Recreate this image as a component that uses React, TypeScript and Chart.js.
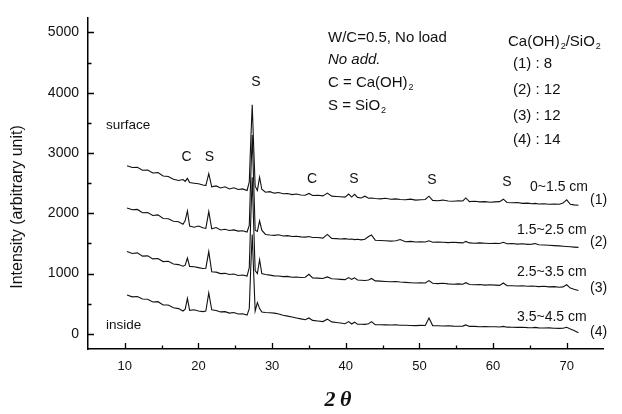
import { useEffect, useRef } from "react";
import { Chart, registerables } from "chart.js";

Chart.register(...registerables);

// 2θ positions (degrees) shared by the four patterns
const twoTheta = [
  10.3, 11, 11.7, 12.4, 13.1, 13.8, 14.5, 15.2, 15.9, 16.6,
  17.3, 17.9, 18.2, 18.5, 18.8, 19.4, 20.0, 20.6, 21.0, 21.4,
  21.8, 22.4, 23.0, 23.6, 24.2, 24.8, 25.4, 26.0, 26.6, 26.9,
  27.1, 27.3, 27.5, 27.7, 28.0, 28.3, 28.6, 29.1, 29.7, 30.3,
  30.9, 31.5, 32.1, 32.7, 33.3, 33.9, 34.5, 35.0, 35.5, 36.2,
  36.9, 37.5, 38.1, 38.7, 39.3, 39.9, 40.4, 40.8, 41.2, 41.6,
  42.1, 42.6, 43.1, 43.5, 44.0, 44.7, 45.4, 46.1, 46.8, 47.4,
  48.1, 48.8, 49.5, 50.2, 50.8, 51.3, 51.8, 52.5, 53.2, 53.9,
  54.6, 55.3, 55.9, 56.3, 56.8, 57.5, 58.2, 58.9, 59.6, 60.3,
  60.9, 61.4, 61.9, 62.6, 63.3, 64.0, 64.7, 65.3, 65.7, 66.2,
  66.9, 67.6, 68.3, 69.0, 69.5, 70.0, 70.5, 71.0, 71.6,
];

// (1) 0~1.5 cm
const trace1 = [
  2790, 2760, 2765, 2715, 2720, 2670, 2675, 2620, 2610, 2565,
  2545, 2560, 2530, 2580, 2510, 2500, 2490, 2470, 2460, 2660,
  2440, 2455, 2420, 2440, 2405, 2425, 2395, 2405, 2380, 2520,
  3200, 3800, 3100, 2450, 2380, 2600, 2400, 2350, 2360, 2335,
  2345, 2325, 2330, 2310, 2320, 2305, 2300, 2330, 2295, 2300,
  2290, 2335, 2285, 2280, 2275, 2270, 2320, 2270, 2315, 2265,
  2255, 2285, 2250, 2255, 2245, 2240, 2250, 2235, 2240, 2230,
  2225, 2235, 2220, 2225, 2230, 2285, 2215, 2210, 2220, 2205,
  2200, 2210, 2205, 2255, 2195, 2200, 2190, 2195, 2185, 2190,
  2195, 2235, 2180, 2175, 2180, 2165, 2170, 2160, 2165, 2155,
  2160, 2150, 2155, 2150, 2170, 2225, 2150, 2140, 2135,
];

// (2) 1.5~2.5 cm
const trace2 = [
  2090, 2060, 2065, 2010, 2015, 1965, 1975, 1915, 1910, 1870,
  1860, 1820, 1880, 2040, 1790, 1770, 1790, 1760, 1750, 2030,
  1745, 1765, 1725, 1735, 1715, 1725, 1705, 1712, 1690, 1800,
  2600, 3300, 2500, 1720, 1700, 1875, 1720, 1650, 1640, 1635,
  1645, 1625, 1630, 1615, 1620, 1610, 1605, 1615, 1600, 1600,
  1590, 1650, 1585, 1580, 1575, 1580, 1570, 1575, 1565, 1570,
  1560, 1570, 1615, 1640, 1555, 1550, 1545, 1540, 1545, 1565,
  1530, 1535, 1525, 1530, 1525, 1545, 1520, 1525, 1520, 1515,
  1520, 1515, 1510, 1535, 1510, 1505, 1510, 1505, 1500, 1505,
  1500, 1520, 1495, 1500, 1490, 1495, 1485, 1490, 1500, 1480,
  1475, 1470, 1465, 1460, 1455, 1450, 1445, 1440, 1435,
];

// (3) 2.5~3.5 cm
const trace3 = [
  1366, 1335, 1345, 1290, 1295, 1245, 1250, 1200, 1205, 1160,
  1150, 1124, 1140, 1258, 1120, 1115, 1100, 1085, 1090, 1366,
  1030, 1025, 1000, 1005, 985, 995, 970, 978, 960, 1100,
  1900, 2600, 1800, 1050, 1000, 1230, 1000, 985, 975, 963,
  960, 950, 955, 940, 945, 935, 940, 990, 930, 925,
  920, 945, 915, 910, 905, 900, 935, 905, 930, 895,
  890, 885, 895, 920, 880, 875, 870, 865, 870, 860,
  855, 850, 845, 850, 845, 885, 840, 835, 840, 830,
  825, 830, 825, 850, 820, 815, 820, 810, 815, 810,
  805, 845, 800, 800, 795, 800, 790, 795, 790, 785,
  790, 780, 785, 775, 780, 815, 760, 740, 721,
];

// (4) 3.5~4.5 cm
const trace4 = [
  645, 615, 620, 580, 575, 530, 535, 480, 480, 435,
  420, 380, 410, 590, 390, 400, 380, 370, 380, 680,
  400, 390, 365, 370, 345, 355, 330, 335, 312, 420,
  1100, 1650, 1000, 380, 520, 420, 365, 355, 350, 345,
  330, 310, 295, 280, 265, 250, 235, 265, 225, 215,
  205, 245, 200, 190, 180, 170, 205, 165, 195, 160,
  160, 158, 170, 205, 155, 152, 150, 148, 152, 145,
  143, 140, 138, 142, 140, 265, 138, 135, 132, 135,
  130, 128, 130, 150, 125, 125, 120, 122, 118, 120,
  115, 125, 112, 110, 108, 110, 105, 103, 108, 100,
  98, 100, 95, 92, 95, 110, 80, 55, 21,
];

const traces = [trace1, trace2, trace3, trace4];
const seriesLabels = ["(1)", "(2)", "(3)", "(4)"];
const depthLabels = ["0~1.5 cm", "1.5~2.5 cm", "2.5~3.5 cm", "3.5~4.5 cm"];
const ratioLabels = ["(1) : 8", "(2) : 12", "(3) : 12", "(4) : 14"];

const xTickValues = [10, 20, 30, 40, 50, 60, 70];
const xMinorTicks = [15, 25, 35, 45, 55, 65];
const yTickValues = [0, 1000, 2000, 3000, 4000, 5000];
const yMinorTicks = [500, 1500, 2500, 3500, 4500];

const SANS = "'Liberation Sans', Arial, sans-serif";
const SERIF = "'Liberation Serif', 'Times New Roman', serif";
const INK = "#111";

type Part = { t: string; sub?: boolean };

function drawParts(ctx: CanvasRenderingContext2D, x: number, y: number, parts: Part[], size: number, style = "") {
  let cx = x;
  for (const p of parts) {
    if (p.sub) {
      ctx.font = `${style}${Math.round(size * 0.62)}px ${SANS}`;
      ctx.fillText(p.t, cx + 1, y + size * 0.32);
      cx += ctx.measureText(p.t).width + 1;
    } else {
      ctx.font = `${style}${size}px ${SANS}`;
      ctx.fillText(p.t, cx, y);
      cx += ctx.measureText(p.t).width;
    }
  }
}

const inwardTicks = {
  id: "inwardTicks",
  afterDraw(chart: any) {
    const { ctx, chartArea, scales } = chart;
    const xs = scales.x;
    const ys = scales.y;
    ctx.save();
    ctx.strokeStyle = "#000";
    ctx.lineWidth = 1.3;
    ctx.beginPath();
    for (const v of xTickValues) {
      const px = Math.round(xs.getPixelForValue(v)) + 0.5;
      ctx.moveTo(px, chartArea.bottom);
      ctx.lineTo(px, chartArea.bottom - 6);
    }
    for (const v of xMinorTicks) {
      const px = Math.round(xs.getPixelForValue(v)) + 0.5;
      ctx.moveTo(px, chartArea.bottom);
      ctx.lineTo(px, chartArea.bottom - 3.5);
    }
    for (const v of yTickValues) {
      const py = Math.round(ys.getPixelForValue(v)) + 0.5;
      ctx.moveTo(chartArea.left, py);
      ctx.lineTo(chartArea.left + 6, py);
    }
    for (const v of yMinorTicks) {
      const py = Math.round(ys.getPixelForValue(v)) + 0.5;
      ctx.moveTo(chartArea.left, py);
      ctx.lineTo(chartArea.left + 3.5, py);
    }
    ctx.stroke();
    ctx.restore();
  },
};

const annotations = {
  id: "annotations",
  afterDraw(chart: any) {
    const ctx: CanvasRenderingContext2D = chart.ctx;
    ctx.save();
    ctx.fillStyle = INK;
    ctx.textBaseline = "middle";
    ctx.textAlign = "left";

    // header block
    drawParts(ctx, 328, 38, [{ t: "W/C=0.5, No load" }], 15);
    drawParts(ctx, 328, 60, [{ t: "No add." }], 15, "italic ");
    drawParts(ctx, 328, 83, [{ t: "C = Ca(OH)" }, { t: "2", sub: true }], 15);
    drawParts(ctx, 328, 106, [{ t: "S = SiO" }, { t: "2", sub: true }], 15);
    drawParts(ctx, 508, 42, [{ t: "Ca(OH)" }, { t: "2", sub: true }, { t: "/SiO" }, { t: "2", sub: true }], 15);
    const ratioY = [64, 90, 116, 140];
    ratioLabels.forEach((t, i) => drawParts(ctx, 513, ratioY[i], [{ t }], 15));

    // side labels
    ctx.font = `13.5px ${SANS}`;
    ctx.fillText("surface", 106, 125);
    ctx.fillText("inside", 106, 325);

    // phase markers
    ctx.textAlign = "center";
    ctx.font = `14px ${SANS}`;
    const markers: [string, number, number][] = [
      ["C", 186.5, 157], ["S", 209.5, 157], ["S", 256, 82],
      ["C", 312, 179], ["S", 354, 179], ["S", 432, 180], ["S", 507, 182],
    ];
    for (const [t, x, y] of markers) ctx.fillText(t, x, y);

    // depth labels and series numbers
    ctx.textAlign = "left";
    const depthPos: [number, number][] = [[530, 187], [517, 230], [517, 272], [517, 317]];
    const numY = [200, 242, 288, 332];
    depthLabels.forEach((t, i) => {
      ctx.font = `14px ${SANS}`;
      ctx.fillText(t, depthPos[i][0], depthPos[i][1]);
      ctx.fillText(seriesLabels[i], 590, numY[i]);
    });

    // axis titles
    ctx.save();
    ctx.translate(18, 207);
    ctx.rotate(-Math.PI / 2);
    ctx.textAlign = "center";
    ctx.font = `16px ${SANS}`;
    ctx.fillText("Intensity (arbitrary unit)", 0, 0);
    ctx.restore();

    ctx.textAlign = "center";
    ctx.font = `italic bold 22px ${SERIF}`;
    ctx.fillText("2\u2009\u03B8", 338, 400);
    ctx.restore();
  },
};

export default function App() {
  const ref = useRef<HTMLCanvasElement | null>(null);

  useEffect(() => {
    if (!ref.current) return;
    const datasets = traces.map((tr, i) => ({
      label: seriesLabels[i],
      data: twoTheta.map((x, j) => ({ x, y: tr[j] })),
      borderColor: INK,
      borderWidth: 1.1,
      pointRadius: 0,
      tension: 0,
      fill: false,
    }));
    const chart = new Chart(ref.current, {
      type: "line",
      data: { datasets },
      options: {
        responsive: false,
        animation: false,
        devicePixelRatio: 1,
        layout: { padding: { left: 0, top: 6.5, right: 18.5, bottom: 0 } },
        plugins: { legend: { display: false }, tooltip: { enabled: false } },
        scales: {
          x: {
            type: "linear",
            min: 5,
            max: 75,
            afterFit: (s: any) => { s.height = 65; },
            afterBuildTicks: (s: any) => { s.ticks = xTickValues.map((v) => ({ value: v })); },
            grid: { display: false, drawTicks: false },
            border: { display: true, color: "#000", width: 1.5 },
            ticks: { color: INK, padding: 10, font: { family: SANS, size: 13 }, callback: (v: any) => String(v) },
          },
          y: {
            type: "linear",
            min: -250,
            max: 5250,
            afterFit: (s: any) => { s.width = 88; },
            afterBuildTicks: (s: any) => { s.ticks = yTickValues.map((v) => ({ value: v })); },
            grid: { display: false, drawTicks: false },
            border: { display: true, color: "#000", width: 1.5 },
            ticks: { color: INK, padding: 9, font: { family: SANS, size: 14 }, callback: (v: any) => String(v) },
          },
        },
      },
      plugins: [inwardTicks, annotations],
    });
    return () => chart.destroy();
  }, []);

  return (
    <div style={{ position: "absolute", left: 0, top: 0, width: 622, height: 414, background: "#fff" }}>
      <canvas ref={ref} width={622} height={414} style={{ display: "block", width: 622, height: 414 }} />
    </div>
  );
}
